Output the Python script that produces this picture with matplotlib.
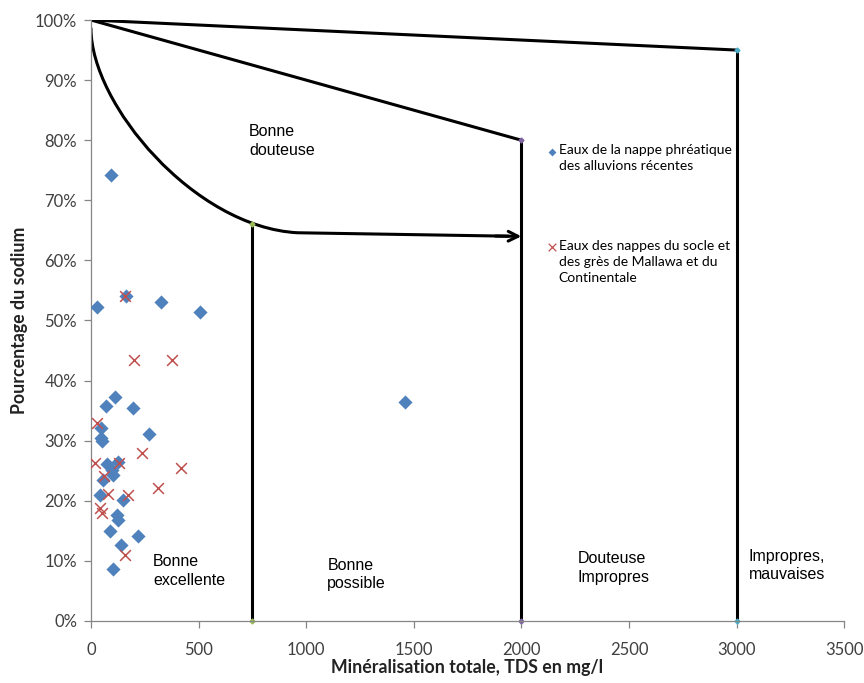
import matplotlib
matplotlib.use("Agg")
import matplotlib.pyplot as plt
from matplotlib.path import Path
from matplotlib.patches import PathPatch

# --- data ---
# Eaux de la nappe phreatique des alluvions recentes (TDS mg/l, % Na)
alluv_tds = [27, 92, 161, 326, 507, 1460, 112, 68, 194, 47, 48, 52, 271,
             73, 127, 96, 104, 57, 42, 150, 120, 127, 88, 217, 140, 104]
alluv_na = [52.3, 74.2, 54.0, 53.0, 51.4, 36.4, 37.3, 35.7, 35.5, 32.1, 30.5, 29.9, 31.1,
            26.2, 26.5, 25.1, 24.3, 23.5, 21.0, 20.1, 17.6, 16.8, 14.9, 14.1, 12.6, 8.6]

# Eaux des nappes du socle et des gres de Mallawa et du Continentale
socle_tds = [158, 201, 375, 27, 236, 19, 132, 417, 62, 313, 78, 171, 42, 50, 158]
socle_na = [54.1, 43.5, 43.4, 32.9, 28.0, 26.3, 26.3, 25.4, 24.1, 22.1, 21.2, 21.0,
            18.8, 17.9, 11.0]

# diagram boundaries
# curved limit: bezier control points, then straight run to the arrow head
curve_tds = [0, 0, 480, 960]
curve_na = [98.6, 86.0, 65.5, 64.6]
arrow_end = (2000, 64.0)
upper_lines = [([0, 2000], [100, 80]), ([0, 3000], [100, 95])]
vert_tds = [750, 2000, 3000]
vert_top = [66.0, 80, 95]
vert_colors = ["#9BBB59", "#8064A2", "#4BACC6"]

zones = [
    (735, 82.7, "Bonne\ndouteuse"),
    (288, 11.1, "Bonne\nexcellente"),
    (1098, 10.5, "Bonne\npossible"),
    (2260, 11.6, "Douteuse\nImpropres"),
    (3056, 12.0, "Impropres,\nmauvaises"),
]

legend_labels = ["Eaux de la nappe phréatique\ndes alluvions récentes",
                 "Eaux des nappes du socle et\ndes grès de Mallawa et du\nContinentale"]

BLUE = "#4F81BD"
RED = "#C0504D"
AXIS_GRAY = "#868686"
TEXT_GRAY = "#404040"
UI_FONT = ["Lato", "DejaVu Sans"]
ZONE_FONT = ["Liberation Sans", "DejaVu Sans"]

fig = plt.figure(figsize=(8.64, 6.83), dpi=100)
ax = fig.add_axes([0.1053, 0.0908, 0.8717, 0.8799])

# boundaries
for xs, ys in upper_lines:
    ax.plot(xs, ys, color="black", lw=2.2, solid_capstyle="round", zorder=2)
for xv, ytop, c in zip(vert_tds, vert_top, vert_colors):
    ax.plot([xv, xv], [0, ytop], color="black", lw=2.2, zorder=2)
    ax.plot([xv, xv], [0, ytop], ls="none", marker="D", markersize=2.5,
            color=c, zorder=2.5, clip_on=False)

bez = Path(list(zip(curve_tds, curve_na)) + [(arrow_end[0] - 60, arrow_end[1] + 0.03)],
           [Path.MOVETO, Path.CURVE4, Path.CURVE4, Path.CURVE4, Path.LINETO])
ax.add_patch(PathPatch(bez, fill=False, ec="black", lw=2.2, capstyle="round",
                       joinstyle="round", zorder=2))
ax.annotate("", xy=arrow_end, xytext=(arrow_end[0] - 120, arrow_end[1] + 0.05),
            arrowprops=dict(arrowstyle="->,head_length=0.7,head_width=0.35",
                            color="black", lw=2.2, shrinkA=0, shrinkB=0), zorder=2)

# samples
ax.scatter(alluv_tds, alluv_na, marker="D", s=52, color=BLUE, linewidths=0, zorder=3)
ax.scatter(socle_tds, socle_na, marker="x", s=60, color=RED, linewidths=1.1, zorder=4)

for x, y, label in zones:
    ax.text(x, y, label, ha="left", va="top", fontsize=11.5, family=ZONE_FONT,
            linespacing=1.3, zorder=5)

# legend, drawn by hand so the keys sit on the first label line
key_y = [0.781, 0.622]
ax.scatter([0.612], [key_y[0]], marker="D", s=16, color=BLUE, linewidths=0,
           transform=ax.transAxes, clip_on=False)
ax.scatter([0.612], [key_y[1]], marker="x", s=30, color=RED, linewidths=0.9,
           transform=ax.transAxes, clip_on=False)
for yk, label in zip(key_y, legend_labels):
    ax.text(0.621, yk + 0.0125, label, transform=ax.transAxes, ha="left", va="top",
            fontsize=10, family=UI_FONT, linespacing=1.4, color="black")

# axes styling
ax.set_xlim(0, 3500)
ax.set_ylim(0, 100)
ax.set_xticks(range(0, 3501, 500))
ax.set_yticks(range(0, 101, 10))
ax.set_yticklabels([f"{v}%" for v in range(0, 101, 10)])
for side in ("top", "right"):
    ax.spines[side].set_visible(False)
for side in ("left", "bottom"):
    ax.spines[side].set_color(AXIS_GRAY)
    ax.spines[side].set_linewidth(0.9)
ax.tick_params(direction="out", length=5, width=0.9, color=AXIS_GRAY,
               labelcolor=TEXT_GRAY, labelsize=12, pad=5)
ax.tick_params(axis="x", pad=10)
for lbl in ax.get_xticklabels() + ax.get_yticklabels():
    lbl.set_family(UI_FONT)

ax.set_xlabel("Minéralisation totale, TDS en mg/l", fontsize=12.8, fontweight="bold",
              family=UI_FONT, color="#222222", labelpad=1)
ax.set_ylabel("Pourcentage du sodium", fontsize=12.8, fontweight="bold",
              family=UI_FONT, color="#222222", labelpad=5)

fig.savefig("out.png", dpi=100)
